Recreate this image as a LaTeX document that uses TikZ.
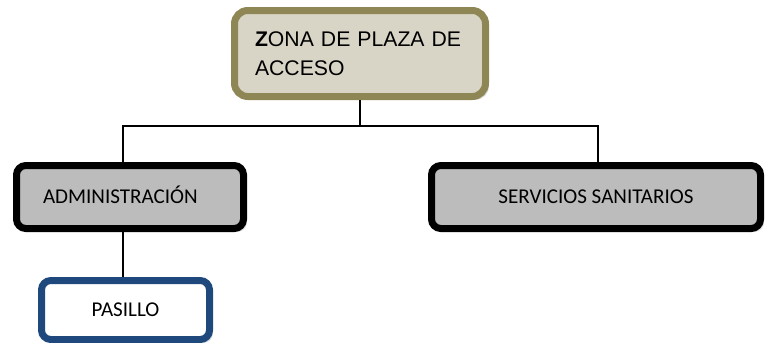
\documentclass[tikz,border=0pt]{standalone}
\usepackage{fontspec}
\setmainfont{Carlito}
\newfontfamily\arialfont{Liberation Sans}
\usepackage{tikz}
\usetikzlibrary{shadows}
\definecolor{zonaborder}{RGB}{143,134,86}
\definecolor{zonafill}{RGB}{216,213,198}
\definecolor{adminfill}{RGB}{188,188,188}
\definecolor{pasilloblue}{RGB}{31,73,125}

\begin{document}
\begin{tikzpicture}[x=0.75pt,y=-0.75pt,
  main node/.style={rectangle,rounded corners=7pt,line width=5.25pt,
    font=\fontsize{15.8}{19}\selectfont,text height=10.2pt,text depth=0pt,
    drop shadow={shadow xshift=2.5pt,shadow yshift=-2.5pt,opacity=0.3}},
  zona node/.style={main node,rounded corners=10pt,draw=zonaborder,fill=zonafill,
    minimum width=188.25pt,minimum height=64.5pt,align=left,text width=157.5pt,
    text height=,text depth=,font=\arialfont\fontsize{15.9}{21.75}\selectfont},
  gray node/.style={main node,draw=black,fill=adminfill,minimum height=47.25pt},
  blue node/.style={main node,draw=pasilloblue,fill=white,
    minimum width=126pt,minimum height=44.25pt},
  link/.style={line width=1.1pt}]
    \useasboundingbox (0,0) rectangle (765,343);

    \node[zona node] (zona) at (360,53.5) {\textbf{Z}ONA DE PLAZA DE\\ACCESO};
    \node[gray node,minimum width=170.25pt,text width=130.5pt,align=left] (admin) at (130,197) {ADMINISTRACIÓN};
    \node[gray node,minimum width=246.75pt] (serv) at (596,197) {SERVICIOS SANITARIOS};
    \node[blue node] (pasillo) at (125.5,310) {PASILLO};

    \draw[link] (zona.south) -- ++(0,26) coordinate (bus);
    \draw[link] ([xshift=-5.25pt]admin.north) |- (bus) -| ([xshift=1.5pt]serv.north);
    \draw[link] ([xshift=-5.25pt]admin.south) -- ([xshift=-5.25pt]admin.south |- pasillo.north);
  \end{tikzpicture}
\end{document}
